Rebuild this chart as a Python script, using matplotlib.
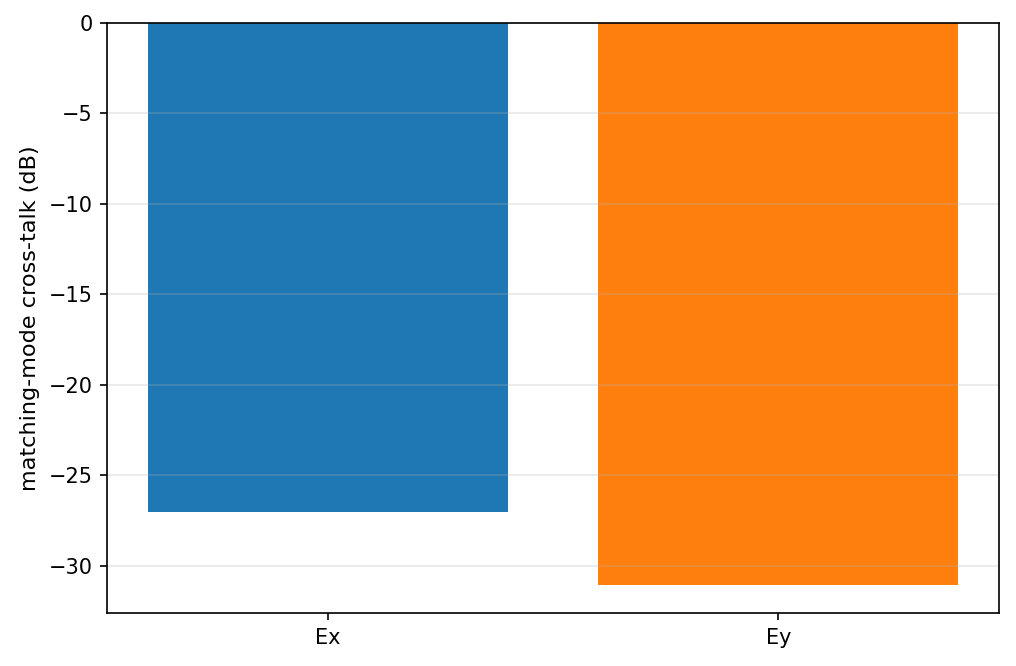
import matplotlib
matplotlib.use("Agg")
import matplotlib.pyplot as plt

modes = ["Ex", "Ey"]
crosstalk_db = [-27.0, -31.05]
colors = ["#1f77b4", "#ff7f0e"]

fig, ax = plt.subplots(figsize=(1016 / 150, 666 / 150), dpi=150)
ax.bar(modes, crosstalk_db, color=colors)
ax.set_ylabel("matching-mode cross-talk (dB)", fontsize=10.75)
ax.grid(axis="y", alpha=0.3)
fig.subplots_adjust(left=0.1053, right=0.9833, top=0.9655, bottom=0.0796)
fig.savefig("out.png", dpi=150)
